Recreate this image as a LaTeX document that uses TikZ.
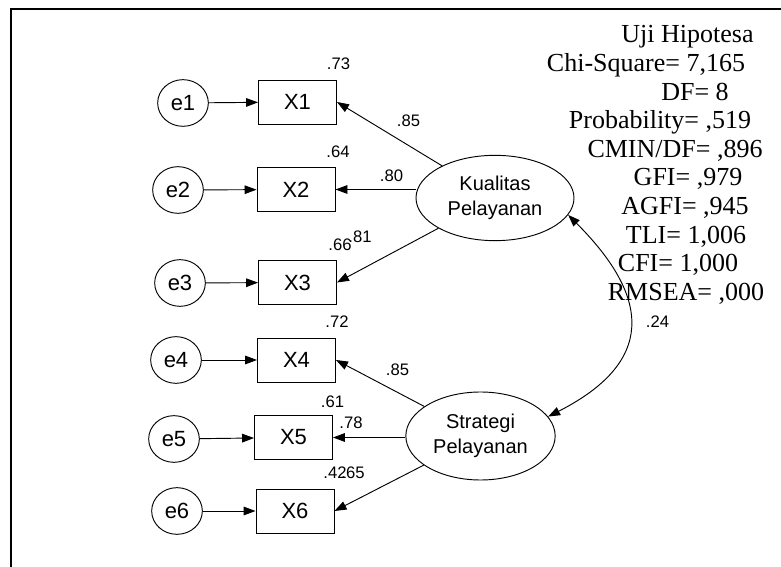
\documentclass[tikz,border=0pt]{standalone}
\usepackage{fontspec}
\setmainfont{Liberation Sans}
\newfontfamily\statfont{Liberation Serif}
\usetikzlibrary{arrows.meta,shapes.geometric}

\begin{document}
\begin{tikzpicture}[x=0.75pt,y=0.75pt,obs/.style={draw,line width=0.7pt,minimum width=58.5pt,minimum height=33pt,inner sep=0pt,font=\fontsize{16.5}{18}\selectfont},err/.style={draw,ellipse,line width=0.7pt,minimum width=38pt,minimum height=35pt,inner sep=0pt,font=\fontsize{16.5}{18}\selectfont},latent/.style={draw,ellipse,line width=0.7pt,align=center,inner sep=0pt,font=\fontsize{15}{18.5}\selectfont},coef/.style={inner sep=0pt,font=\fontsize{12.5}{14}\selectfont},gof/.style={anchor=base,inner sep=0pt,font=\statfont\fontsize{19.5}{22}\selectfont},load/.style={-{Triangle[length=9pt,width=6.5pt]},line width=0.7pt}]
\useasboundingbox (0,0) rectangle (781,567);
\draw[line width=1.6pt] (11,0) -- (11,558) -- (781,558);
% error terms
\node[err] (e1) at (183,464) {e1};
\node[err] (e2) at (178,377) {e2};
\node[err] (e3) at (180,284) {e3};
\node[err] (e4) at (176,207) {e4};
\node[err] (e5) at (174,128) {e5};
\node[err] (e6) at (177,56) {e6};
% indicators
\node[obs] (x1) at (297.5,465) {X1};
\node[obs] (x2) at (296,377.5) {X2};
\node[obs] (x3) at (297.5,284.5) {X3};
\node[obs] (x4) at (296.5,207) {X4};
\node[obs] (x5) at (293.5,129.5) {X5};
\node[obs] (x6) at (295,56) {X6};
% latent variables
\node[latent,minimum width=118.5pt,minimum height=64pt] (kp) at (495,369) {Kualitas\\Pelayanan};
\node[latent,minimum width=112pt,minimum height=66pt] (sp) at (480.5,131) {Strategi\\Pelayanan};
\draw[load] (e1) -- (x1);
\draw[load] (e2) -- (x2);
\draw[load] (e3) -- (x3);
\draw[load] (e4) -- (x4);
\draw[load] (e5) -- (x5);
\draw[load] (e6) -- (x6);
\draw[load] (kp) -- (x1.east);
\draw[load] (kp.west |- x2.east) -- (x2.east);
\draw[load] (kp) -- (x3.east);
\draw[load] (sp) -- (x4.east);
\draw[load] (sp.west |- x5.east) -- (x5.east);
\draw[load] (sp) -- (x6.east);
\draw[{Triangle[length=9pt,width=6.5pt]}-{Triangle[length=9pt,width=6.5pt]},line width=0.7pt] (kp.-13) to[out=-45,in=27,looseness=1.5] (sp.16);
% estimates
\node[coef] (r1) at (338.5,503) {.73};
\node[coef] (r2) at (338,415) {.64};
\node[coef] (r3) at (340,322) {.66};
\node[coef] (r4) at (337,245) {.72};
\node[coef] (r5) at (332.5,165) {.61};
\node[coef] (r6) at (335,94) {.42};
\node[coef] (l1) at (408.5,446) {.85};
\node[coef] (l2) at (391.5,391.5) {.80};
\node[coef] (l3) at (360,330) {.81};
\node[coef] (l4) at (397.5,197) {.85};
\node[coef] (l5) at (351,144.5) {.78};
\node[coef] (l6) at (353,94) {.65};
\node[coef] (cv) at (657.5,245) {.24};
% fit summary
\node[gof] (t0) at (687.5,524) {Uji Hipotesa};
\node[gof] (t1) at (646,495.4) {Chi-Square= 7,165};
\node[gof] (t2) at (695,466.8) {DF= 8};
\node[gof] (t3) at (660,438.2) {Probability= ,519};
\node[gof] (t4) at (675,409.6) {CMIN/DF= ,896};
\node[gof] (t5) at (688,381) {GFI= ,979};
\node[gof] (t6) at (685,352.4) {AGFI= ,945};
\node[gof] (t7) at (686,323.8) {TLI= 1,006};
\node[gof] (t8) at (678,295.2) {CFI= 1,000};
\node[gof] (t9) at (686,266.6) {RMSEA= ,000};
\end{tikzpicture}
\end{document}
